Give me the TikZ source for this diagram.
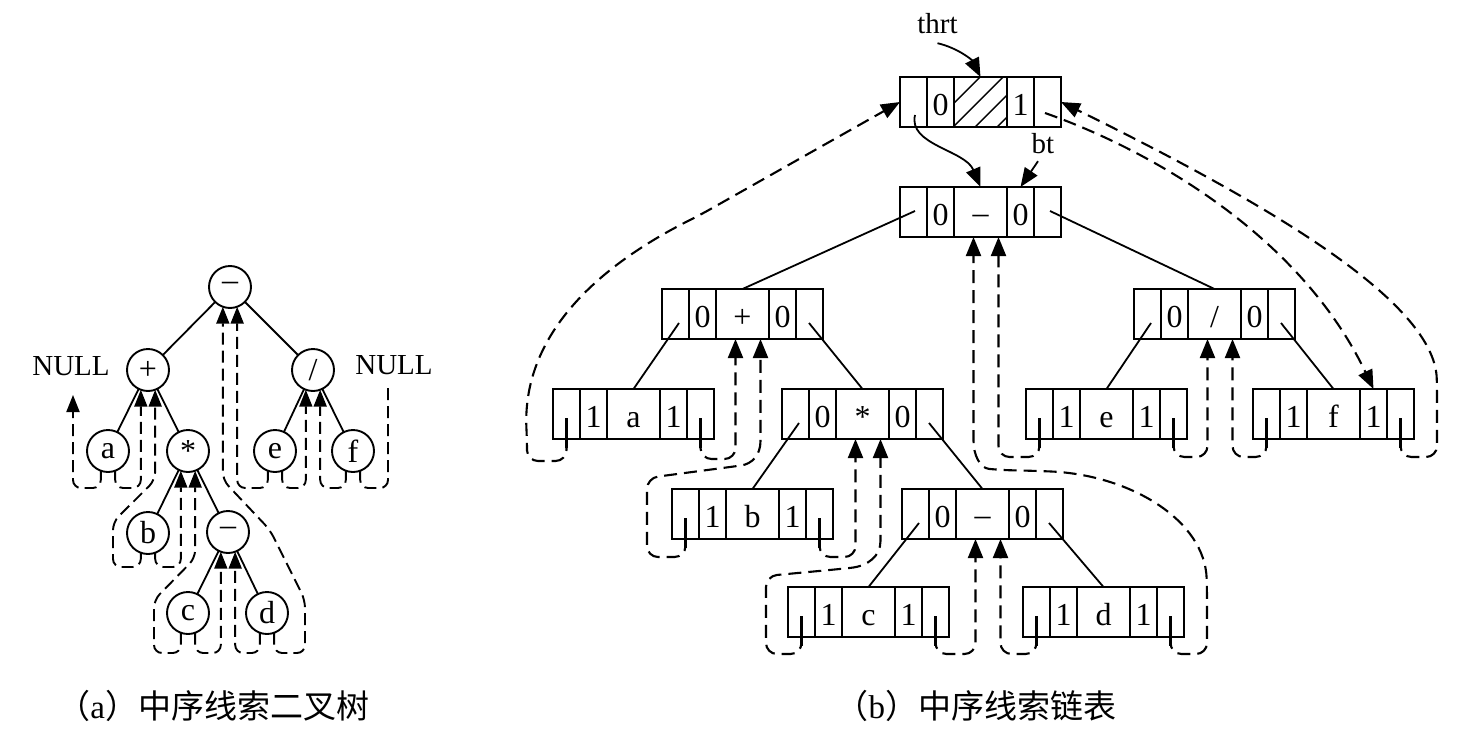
\documentclass[tikz,border=0pt]{standalone}
\usepackage{fontspec}
\setmainfont{Liberation Serif}
\newfontfamily\cjk{Noto Sans CJK SC}
\usetikzlibrary{arrows.meta}
\tikzset{
  every node/.style={font=\fontsize{32}{36}\selectfont, inner sep=0pt, outer sep=0pt},
  recbox/.style={draw, line width=2.3pt, minimum width=161pt, minimum height=50pt, anchor=north west},
  cellsep/.style={line width=2.2pt},
  tline/.style={line width=1.8pt},
  thread/.style={line width=2.1pt, dash pattern=on 13pt off 7pt, rounded corners=11pt},
  athread/.style={line width=1.9pt, dash pattern=on 12pt off 6pt, rounded corners=8pt},
  solidthr/.style={line width=2.1pt},
  arr/.style={-{Triangle[length=19pt,width=15pt]}},
  aarr/.style={-{Triangle[length=17pt,width=13pt]}},
  circ/.style={draw, circle, line width=1.9pt, minimum size=42pt, font=\fontsize{32}{36}\selectfont},
  dashtxt/.style={text height=0.68em, text depth=0pt},
  lbl/.style={anchor=base},
  smalltxt/.style={font=\fontsize{29}{32}\selectfont},
  captxt/.style={font=\fontsize{33}{36}\selectfont, anchor=base east},
}
% name, x, y, tag1, data, tag2
\newcommand\drawrec[6]{%
  \node[recbox] (#1) at (#2,#3) {};
  \draw[cellsep] ({#2+27},#3) -- ++(0,50) ({#2+54},#3) -- ++(0,50)
                 ({#2+107},#3) -- ++(0,50) ({#2+134},#3) -- ++(0,50);
  \node[lbl] (#1-t1) at ({#2+40.5},{#3+38}) {#4};
  \node[lbl] (#1-d)  at ({#2+80.5},{#3+38}) {#5};
  \node[lbl] (#1-t2) at ({#2+120.5},{#3+38}) {#6};
  \coordinate (#1-l)  at ({#2+13.5},{#3+29});
  \coordinate (#1-r)  at ({#2+147.5},{#3+29});
  \coordinate (#1-ls) at ({#2+17},{#3+34});
  \coordinate (#1-rs) at ({#2+147},{#3+34});
  \coordinate (#1-top) at ({#2+80.5},#3);
  \coordinate (#1-t2top) at ({#2+120.5},#3);
  \coordinate (#1-p) at ({#2+73.5},{#3+50});
  \coordinate (#1-q) at ({#2+98.5},{#3+50});
}
\begin{document}
\begin{tikzpicture}[x=1pt,y=-1pt]
\fill[white] (0,0) rectangle (1475,736);
\useasboundingbox (0,0) rectangle (1475,736);

% ================= (a) threaded binary tree =================
\node[circ,dashtxt] (A)  at (230,287) {–};
\node[circ] (Pl) at (148,370) {+};
\node[circ] (Sl) at (313,370) {/};
\node[circ] (Aa) at (108,451) {a};
\node[circ] (St) at (188,451) {*};
\node[circ] (Ae) at (275,451) {e};
\node[circ] (Af) at (353,451) {f};
\node[circ] (Ab) at (148,533) {b};
\node[circ,dashtxt] (Mm) at (228,532) {–};
\node[circ] (Ac) at (188,613) {c};
\node[circ] (Ad) at (267,613) {d};
\node[smalltxt] (nullL) at (71,366) {NULL};
\node[smalltxt] (nullR) at (394,365) {NULL};
\coordinate (nlt) at (73,395);
\coordinate (nrt) at (388,385);

\draw[tline] (A) -- (Pl);
\draw[tline] (A) -- (Sl);
\draw[tline] (Pl) -- (Aa);
\draw[tline] (Pl) -- (St);
\draw[tline] (St) -- (Ab);
\draw[tline] (St) -- (Mm);
\draw[tline] (Mm) -- (Ac);
\draw[tline] (Mm) -- (Ad);
\draw[tline] (Sl) -- (Ae);
\draw[tline] (Sl) -- (Af);

\draw[athread,aarr] (Aa.250) -- (Aa.250 |- 0,488) -| (nlt);
\draw[athread,aarr] (Aa.290) -- (Aa.290 |- 0,488) -| (Pl.250);
\draw[athread,aarr] (Ab.250) -- (Ab.250 |- 0,567) -| (113,522) -- (Pl.290 |- 0,480) -- (Pl.290);
\draw[athread,aarr] (Ab.290) -- (Ab.290 |- 0,567) -| (St.250);
\draw[athread,aarr] (Ac.250) -- (Ac.250 |- 0,653) -| (154,600) -- (St.290 |- 0,558) -- (St.290);
\draw[athread,aarr] (Ac.290) -- (Ac.290 |- 0,653) -| (Mm.250);
\draw[athread,aarr] (Ad.250) -- (Ad.250 |- 0,653) -| (Mm.290);
\draw[athread,aarr] (Ad.290) -- (Ad.290 |- 0,653) -| (305,600) -- (270,530) -- (A.250 |- 0,480) -- (A.250);
\draw[athread,aarr] (Ae.250) -- (Ae.250 |- 0,488) -| (A.290);
\draw[athread,aarr] (Ae.290) -- (Ae.290 |- 0,488) -| (Sl.250);
\draw[athread,aarr] (Af.250) -- (Af.250 |- 0,488) -| (Sl.290);
\draw[athread] (Af.290) -- (Af.290 |- 0,488) -| (nrt);

\node[captxt] (capa) at (369,718) {{\cjk （}a{\cjk ）中序线索二叉树}};

% ================= (b) threaded linked list =================
\drawrec{hd}{900}{77}{0}{}{1}
\drawrec{mn}{900}{187}{0}{\raisebox{2pt}{–}}{0}
\drawrec{pl}{662}{289}{0}{+}{0}
\drawrec{sl}{1134}{289}{0}{/}{0}
\drawrec{na}{553}{389}{1}{a}{1}
\drawrec{st}{782}{389}{0}{*}{0}
\drawrec{ne}{1026}{389}{1}{e}{1}
\drawrec{nf}{1253}{389}{1}{f}{1}
\drawrec{nb}{672}{489}{1}{b}{1}
\drawrec{mm}{902}{489}{0}{\raisebox{2pt}{–}}{0}
\drawrec{nc}{788}{587}{1}{c}{1}
\drawrec{nd}{1023}{587}{1}{d}{1}

% hatching of the head's data cell
\begin{scope}
  \clip (954,77) rectangle (1007,127);
  \foreach \c in {1057,1080,1102,1124}
    \draw[line width=1.4pt] ({\c-127},127) -- ({\c-77},77);
\end{scope}

\coordinate (hdls) at (915,115);
\coordinate (hdrs) at (1045,113);
\coordinate (mnls) at (915,211);
\coordinate (mnrs) at (1050,211);

\node[smalltxt] (thrt) at (937.5,24) {thrt};
\node[smalltxt] (bt) at (1043,144) {bt};
\draw[tline,arr] ([yshift=-9pt]thrt.south) .. controls (958,48) and (972,60) .. (hd-top);
\draw[tline,arr] ([xshift=-5pt,yshift=-7pt]bt.south) -- (mn-t2top);
\draw[tline,arr] (hdls) .. controls (908,145) and (965,150) .. (mn-top);

% tree edges
\draw[tline] (mnls) -- (pl-top);
\draw[tline] (mnrs) -- (sl-top);
\draw[tline] (pl-ls) -- (na-top);
\draw[tline] (pl-rs) -- (st-top);
\draw[tline] (st-ls) -- (nb-top);
\draw[tline] (st-rs) -- (mm-top);
\draw[tline] (mm-ls) -- (nc-top);
\draw[tline] (mm-rs) -- (nd-top);
\draw[tline] (sl-ls) -- (ne-top);
\draw[tline] (sl-rs) -- (nf-top);

% solid starts of the leaf threads
\foreach \nm in {na,nb,nc,nd,ne,nf}{
  \draw[solidthr] (\nm-l) -- ++(0,30);
  \draw[solidthr] (\nm-r) -- ++(0,30);
}

% threads
\draw[thread,arr] (na-l) -- (566.5,461) -- (527,461) -- (527,440)
   .. controls (522,340) and (590,270) .. (700,215) -- (hd.west);
\draw[thread,arr] (na-r) -- (700.5,459) -- (735.5,459) -- (pl-p);
\draw[thread,arr] (nb-l) -- (685.5,557) -- (647,557) -- (647,478) -- (730,467)
   .. controls (752,464) and (760.5,455) .. (760.5,430) -- (pl-q);
\draw[thread,arr] (nb-r) -- (819.5,557) -- (855.5,557) -- (st-p);
\draw[thread,arr] (nc-l) -- (801.5,654) -- (766,654) -- (766,576) -- (840,569)
   .. controls (868,566) and (880.5,556) .. (880.5,530) -- (st-q);
\draw[thread,arr] (nc-r) -- (935.5,654) -- (975.5,654) -- (mm-p);
\draw[thread,arr] (nd-l) -- (1036.5,654) -- (1000.5,654) -- (mm-q);
\draw[thread,arr] (nd-r) -- (1170.5,654) -- (1207,654) -- (1207,590)
   .. controls (1205,520) and (1130,475) .. (1040,471) -- (1000,470)
   .. controls (980,468) and (973.5,455) .. (973.5,430) -- (mn-p);
\draw[thread,arr] (ne-l) -- (1039.5,457) -- (998.5,457) -- (mn-q);
\draw[thread,arr] (ne-r) -- (1173.5,457) -- (1207.5,457) -- (sl-p);
\draw[thread,arr] (nf-l) -- (1266.5,457) -- (1232.5,457) -- (sl-q);
\draw[thread,arr] (nf-r) -- (1400.5,457) -- (1437,457) -- (1437,390)
   .. controls (1435,300) and (1260,200) .. (hd.east);
\draw[thread,arr] (hdrs) .. controls (1150,150) and (1300,235) .. (nf-t2top);

\node[captxt] (capb) at (1116,718) {{\cjk （}b{\cjk ）中序线索链表}};
\end{tikzpicture}
\end{document}
